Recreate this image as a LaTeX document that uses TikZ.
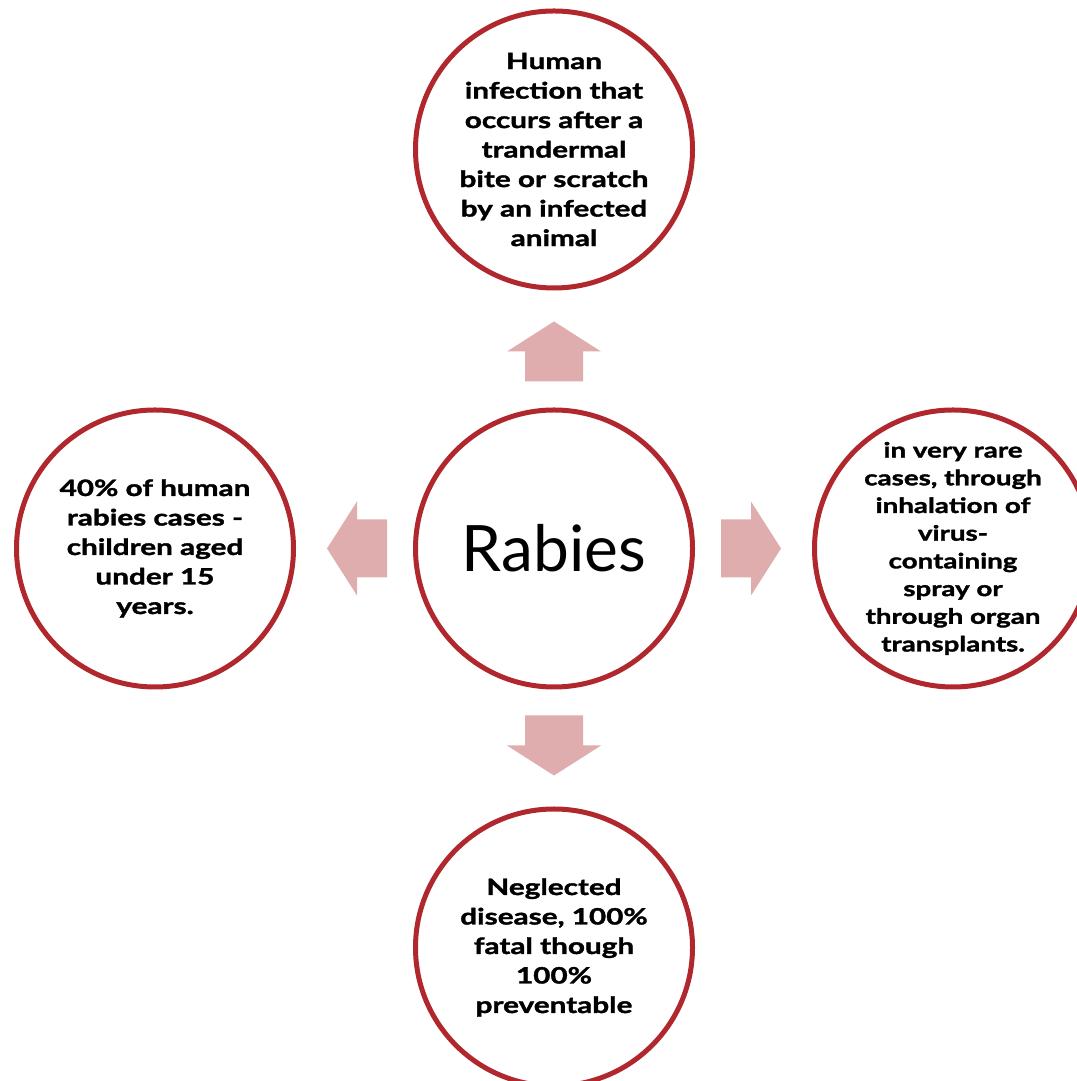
\documentclass[tikz,border=0pt]{standalone}
\usepackage{fontspec}
\setmainfont{Lato}
\newfontfamily\notefont{Lato}[UprightFont={* Bold}, FakeStretch=1.32, FakeBold=1.6]
\usetikzlibrary{positioning}
\definecolor{ring}{RGB}{176,40,46}
\definecolor{pale}{RGB}{223,173,173}
\definecolor{ink}{RGB}{0,0,0}

\begin{document}
\begin{tikzpicture}[
  x=1pt, y=1pt,
  node distance=117pt,
  every node/.style={text=ink},
  disc/.style={circle, draw=ring, fill=white, line width=5pt, minimum size=277pt,
               inner sep=0pt, align=center},
  note/.style={disc, font=\notefont\fontsize{22.5}{29.5}\selectfont},
  arr/.style={fill=pale, draw=none},
]
\useasboundingbox[fill=white] (0,0) rectangle (1076,1081);

% ---------------- centre ----------------
\node[disc, font=\fontsize{64}{70}\selectfont] (rab) at (554,532.5) {Rabies};

% ---------------- four satellites ----------------
\node[note, above=of rab] (bite) {Human\\infection that\\occurs after a\\trandermal\\bite or scratch\\by an infected\\animal};
\node[note, left=of rab] (kids) {40\% of human\\rabies cases -\\children aged\\under 15\\years.};
\node[note, right=of rab, font=\notefont\fontsize{21}{27.7}\selectfont] (rare)
  {in very rare\\cases, through\\inhalation of\\virus-\\containing\\spray or\\through organ\\transplants.};
\node[note, below=of rab] (fatal) {Neglected\\disease, 100\%\\fatal though\\100\%\\preventable};

% block arrows, pointing out of the centre
\foreach \ang in {0,90,180,270} {
  \begin{scope}[shift={(rab.center)}, rotate=\ang]
    \fill[arr] (167,-29) -- (197,-29) -- (197,-47) -- (227,0)
      -- (197,47) -- (197,29) -- (167,29) -- cycle;
  \end{scope}
}

\end{tikzpicture}
\end{document}
